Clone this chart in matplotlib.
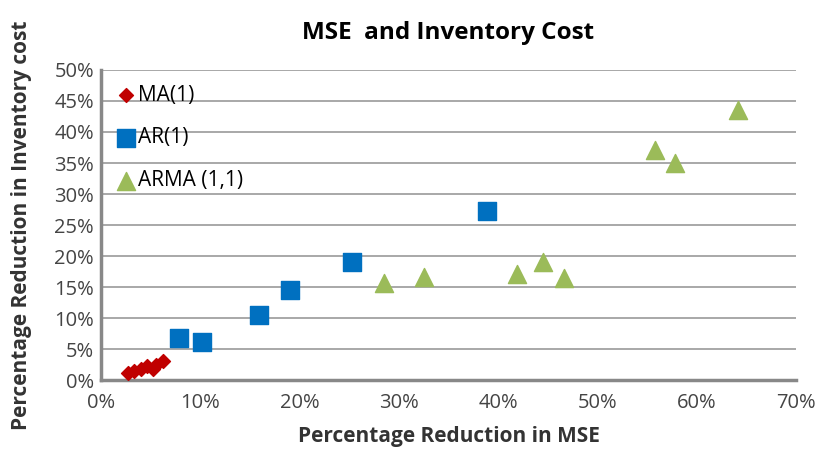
import matplotlib.pyplot as plt
from matplotlib.ticker import PercentFormatter

plt.rcParams['font.family'] = ['Open Sans', 'DejaVu Sans']

ma_x = [2.7, 3.3, 4.0, 4.6, 5.2, 5.5, 6.2]
ma_y = [1.2, 1.5, 1.8, 2.2, 1.7, 2.5, 3.0]

ar_x = [7.9, 10.2, 15.9, 19.0, 25.3, 38.9]
ar_y = [6.8, 6.1, 10.5, 14.5, 19.0, 27.3]

arma_x = [28.5, 32.5, 41.9, 44.5, 46.6, 55.8, 57.8, 64.2]
arma_y = [15.6, 16.6, 17.1, 19.0, 16.5, 37.1, 35.0, 43.5]

fig = plt.figure(figsize=(8.25, 4.51), dpi=100)
ax = fig.add_axes([0.1224, 0.1574, 0.8424, 0.6874])

ax.scatter(ma_x, ma_y, marker='D', s=50, color='#C00000', label='MA(1)', zorder=3)
ax.scatter(ar_x, ar_y, marker='s', s=150, color='#0070C0', label='AR(1)', zorder=3)
ax.scatter(arma_x, arma_y, marker='^', s=170, color='#9BBB59', label='ARMA (1,1)', zorder=3)

ax.set_xlim(0, 70)
ax.set_ylim(0, 50)
ax.set_xticks(range(0, 71, 10))
ax.set_yticks(range(0, 51, 5))
ax.xaxis.set_major_formatter(PercentFormatter(decimals=0))
ax.yaxis.set_major_formatter(PercentFormatter(decimals=0))
ax.tick_params(length=0, labelsize=14.5, colors='#444444')
ax.tick_params(axis='x', pad=9)
ax.tick_params(axis='y', pad=5)
ax.grid(axis='y', color='#999999', linewidth=1.2)
ax.set_axisbelow(True)

for s in ['top', 'right']:
    ax.spines[s].set_visible(False)
for s in ['left', 'bottom']:
    ax.spines[s].set_color('#888888')
    ax.spines[s].set_linewidth(2.5)

ax.set_title('MSE  and Inventory Cost', fontsize=17.5, fontweight='bold', pad=22)
ax.set_xlabel('Percentage Reduction in MSE', fontsize=15, fontweight='bold',
              color='#333333', labelpad=10)
ax.set_ylabel('Percentage Reduction in Inventory cost', fontsize=15, fontweight='bold',
              color='#333333', labelpad=16)

ax.legend(loc='upper left', frameon=False, fontsize=15, handletextpad=0.1,
          labelspacing=1.05, borderaxespad=0.3, handlelength=1.0)

fig.savefig('out.png', dpi=100)
